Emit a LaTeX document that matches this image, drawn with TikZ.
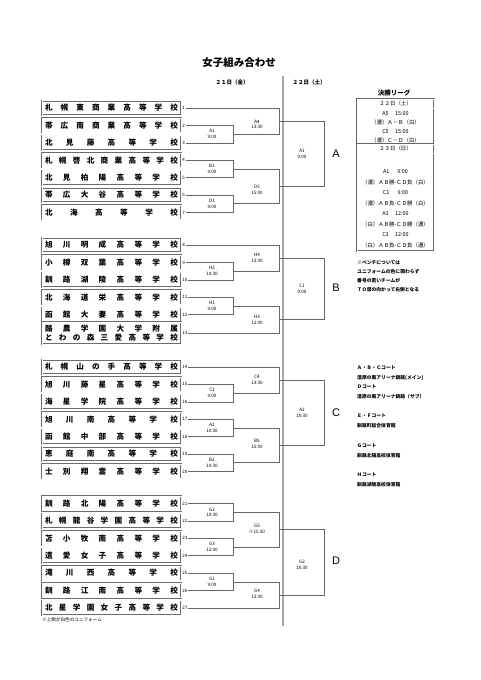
\documentclass[tikz,border=0pt]{standalone}
\usepackage{fontspec}
\setmainfont{Noto Sans CJK JP}
\newfontfamily\latinsans{Liberation Sans}
\def\spreadchars#1{\spreadA#1\endspread}
\def\endspread{ENDSPREAD}
\def\spreadA#1{\ifx#1\endspread\else#1\expandafter\spreadB\fi}
\def\spreadB#1{\ifx#1\endspread\else\hfill#1\expandafter\spreadB\fi}
\tikzset{
 schoolbox/.style={draw=gray!85!black, double=white, double distance=0.7pt, line width=0.45pt,
   minimum width=139pt, minimum height=14.5pt, inner sep=0pt, font=\fontsize{7.6}{9}\selectfont\bfseries},
 num/.style={font=\fontsize{4.5}{5}\selectfont, inner sep=0.6pt, anchor=west},
 br/.style={draw=gray!80!black, line width=0.5pt},
 lbl/.style={font=\fontsize{4.6}{5.6}\selectfont, align=center, inner sep=0pt},
 grp/.style={font=\latinsans\fontsize{11}{12}\selectfont, inner sep=0pt},
 note/.style={font=\fontsize{4.8}{5.5}\selectfont\bfseries, anchor=west, inner sep=0pt},
 tabtxt/.style={font=\fontsize{5.4}{6}\selectfont, inner sep=0pt},
 dbl/.style={draw=gray!80!black, double=white, double distance=0.6pt, line width=0.4pt},
}
\newcommand\school[3]{%
 \node[schoolbox] (s#1) at (111.5,#2) {\makebox[133pt][s]{\spreadchars{#3}}};
 \node[num] (n#1) at (181.5,#2) {#1};}
\begin{document}
\begin{tikzpicture}[x=1pt,y=-1pt]
\useasboundingbox (0,0) rectangle (481,680);
% title
\node[font=\fontsize{10.5}{12}\selectfont\bfseries] (title) at (239,63) {女子組み合わせ};
\node[font=\fontsize{5.5}{6}\selectfont\bfseries] (d21) at (232,82) {２１日（金）};
\node[font=\fontsize{5.5}{6}\selectfont\bfseries] (d22) at (309,82) {２２日（土）};
\coordinate (vtop) at (283,76);
\coordinate (vbot) at (283,626);
\draw[draw=gray!70, line width=1.4pt] (vtop) -- (vbot);
% schools
\school{1}{108}{札幌東商業高等学校}
\school{2}{125.4}{帯広南商業高等学校}
\school{3}{142.8}{北見藤高等学校}
\school{4}{160.2}{札幌啓北商業高等学校}
\school{5}{177.6}{北見柏陽高等学校}
\school{6}{195}{帯広大谷高等学校}
\school{7}{212.4}{北海高等学校}
\school{8}{245}{旭川明成高等学校}
\school{9}{262.4}{小樽双葉高等学校}
\school{10}{279.8}{釧路湖陵高等学校}
\school{11}{297.2}{北海道栄高等学校}
\school{12}{314.6}{函館大妻高等学校}
\node[schoolbox, minimum height=22pt, align=center] (s13) at (111.5,333)
 {\makebox[133pt][s]{\spreadchars{酪農学園大学附属}}\\[-0.5pt]\makebox[133pt][s]{\spreadchars{とわの森三愛高等学校}}};
\node[num] (n13) at (181.5,333) {13};
\school{14}{367}{札幌山の手高等学校}
\school{15}{384.4}{旭川藤星高等学校}
\school{16}{401.8}{海星学院高等学校}
\school{17}{419.2}{旭川南高等学校}
\school{18}{436.6}{函館中部高等学校}
\school{19}{454}{恵庭南高等学校}
\school{20}{471.4}{士別翔雲高等学校}
\school{21}{503.5}{釧路北陽高等学校}
\school{22}{520.9}{札幌龍谷学園高等学校}
\school{23}{538.3}{苫小牧南高等学校}
\school{24}{555.7}{遺愛女子高等学校}
\school{25}{573.1}{滝川西高等学校}
\school{26}{590.5}{釧路江南高等学校}
\school{27}{607.9}{北星学園女子高等学校}
% ---- group A
\coordinate (mA1) at (233,134.1);
\coordinate (mB1) at (233,168.9);
\coordinate (mD1) at (233,203.7);
\coordinate (mA4) at (279,121.05);
\coordinate (mD5) at (279,186.3);
\coordinate (fA) at (324,153.7);
\draw[br] (n2.east) -| (mA1); \draw[br] (n3.east) -| (mA1);
\draw[br] (n4.east) -| (mB1); \draw[br] (n5.east) -| (mB1);
\draw[br] (n6.east) -| (mD1); \draw[br] (n7.east) -| (mD1);
\draw[br] (n1.east) -| (mA4); \draw[br] (mA1) -| (mA4);
\draw[br] (mB1) -| (mD5); \draw[br] (mD1) -| (mD5);
\draw[br] (mA4) -| (fA); \draw[br] (mD5) -| (fA);
\node[lbl] (lA1) at (212,134.1) {A1\\9:00};
\node[lbl] (lB1) at (212,168.9) {B1\\9:00};
\node[lbl] (lD1) at (212,203.7) {D1\\9:00};
\node[lbl] (lA4) at (257,124.5) {A4\\13:30};
\node[lbl] (lD5) at (257,190) {D5\\15:00};
\node[lbl] (lfA) at (302,153.7) {A1\\9:00};
\node[grp] (gA) at (336,154) {A};
% ---- group B
\coordinate (mH2) at (233,271.1);
\coordinate (mH1) at (233,305.9);
\coordinate (mH4) at (279,258.05);
\coordinate (mH3) at (279,319.45);
\coordinate (fB) at (324,288.75);
\draw[br] (n9.east) -| (mH2); \draw[br] (n10.east) -| (mH2);
\draw[br] (n11.east) -| (mH1); \draw[br] (n12.east) -| (mH1);
\draw[br] (n8.east) -| (mH4); \draw[br] (mH2) -| (mH4);
\draw[br] (mH1) -| (mH3); \draw[br] (n13.east) -| (mH3);
\draw[br] (mH4) -| (fB); \draw[br] (mH3) -| (fB);
\node[lbl] (lH2) at (212,271.1) {H2\\10:30};
\node[lbl] (lH1) at (212,305.9) {H1\\9:00};
\node[lbl] (lH4) at (257,258) {H4\\13:30};
\node[lbl] (lH3) at (257,320) {H3\\12:00};
\node[lbl] (lfB) at (302,288.75) {C1\\9:00};
\node[grp] (gB) at (336,288) {B};
% ---- group C
\coordinate (mC1) at (233,393.1);
\coordinate (mA2) at (233,427.9);
\coordinate (mB2) at (233,462.7);
\coordinate (mC4) at (279,380.05);
\coordinate (mB5) at (279,445.3);
\coordinate (fC) at (324,412.7);
\draw[br] (n15.east) -| (mC1); \draw[br] (n16.east) -| (mC1);
\draw[br] (n17.east) -| (mA2); \draw[br] (n18.east) -| (mA2);
\draw[br] (n19.east) -| (mB2); \draw[br] (n20.east) -| (mB2);
\draw[br] (n14.east) -| (mC4); \draw[br] (mC1) -| (mC4);
\draw[br] (mA2) -| (mB5); \draw[br] (mB2) -| (mB5);
\draw[br] (mC4) -| (fC); \draw[br] (mB5) -| (fC);
\node[lbl] (lC1) at (212,393.1) {C1\\9:00};
\node[lbl] (lA2) at (212,427.9) {A2\\10:30};
\node[lbl] (lB2) at (212,462.7) {B2\\10:30};
\node[lbl] (lC4) at (257,380) {C4\\13:30};
\node[lbl] (lB5) at (257,444) {B5\\15:00};
\node[lbl] (lfC) at (302,412.7) {A2\\10:30};
\node[grp] (gC) at (336,413) {C};
% ---- group D
\coordinate (mG2) at (233,512.2);
\coordinate (mG3) at (233,547);
\coordinate (mG1) at (233,581.8);
\coordinate (mG5) at (279,529.6);
\coordinate (mG4) at (279,594.85);
\coordinate (fD) at (324,562.2);
\draw[br] (n21.east) -| (mG2); \draw[br] (n22.east) -| (mG2);
\draw[br] (n23.east) -| (mG3); \draw[br] (n24.east) -| (mG3);
\draw[br] (n25.east) -| (mG1); \draw[br] (n26.east) -| (mG1);
\draw[br] (mG2) -| (mG5); \draw[br] (mG3) -| (mG5);
\draw[br] (mG1) -| (mG4); \draw[br] (n27.east) -| (mG4);
\draw[br] (mG5) -| (fD); \draw[br] (mG4) -| (fD);
\node[lbl] (lG2) at (212,512.2) {G2\\10:30};
\node[lbl] (lG3) at (212,547) {G3\\12:00};
\node[lbl] (lG1) at (212,581.8) {G1\\9:00};
\node[lbl] (lG5) at (257,529) {G5\\※15:30};
\node[lbl] (lG4) at (257,594) {G4\\13:30};
\node[lbl] (lfD) at (302,565) {G2\\10:30};
\node[grp] (gD) at (336,561) {D};
\node[note, font=\fontsize{4.6}{5}\selectfont] (foot) at (42,620) {※上側が白色のユニフォーム};
% ---- final league table
\node[font=\fontsize{6.5}{7}\selectfont\bfseries] (lgT) at (394,93) {決勝リーグ};
\coordinate (tbTL) at (357,99);
\coordinate (tbBR) at (434,251);
\draw[dbl] (tbTL) rectangle (tbBR);
\coordinate (h1a) at (357,108.5); \coordinate (h1b) at (434,108.5);
\coordinate (h2a) at (357,144); \coordinate (h2b) at (434,144);
\coordinate (h3a) at (357,153.5); \coordinate (h3b) at (434,153.5);
\draw[dbl] (h1a) -- (h1b);
\draw[dbl] (h2a) -- (h2b);
\draw[dbl] (h3a) -- (h3b);
\node[tabtxt] (r0) at (395.5,103.8) {２２日（土）};
\node[tabtxt] (r1) at (395.5,113.5) {A5\hspace{1.2em}15:00};
\node[tabtxt] (r2) at (395.5,122.5) {（濃）Ａ－Ｂ（白）};
\node[tabtxt] (r3) at (395.5,131.5) {C5\hspace{1.2em}15:00};
\node[tabtxt] (r4) at (395.5,140) {（濃）Ｃ－Ｄ（白）};
\node[tabtxt] (r5) at (395.5,148.8) {２３日（日）};
\node[tabtxt] (r6) at (395.5,171.5) {A1\hspace{1.5em}9:00};
\node[tabtxt] (r7) at (395.5,182) {（濃）ＡＢ勝-ＣＤ負（白）};
\node[tabtxt] (r8) at (395.5,192.5) {C1\hspace{1.5em}9:00};
\node[tabtxt] (r9) at (395.5,203) {（濃）ＡＢ負-ＣＤ勝（白）};
\node[tabtxt] (r10) at (395.5,213.5) {A3\hspace{1.2em}12:00};
\node[tabtxt] (r11) at (395.5,224.5) {（白）ＡＢ勝-ＣＤ勝（濃）};
\node[tabtxt] (r12) at (395.5,235) {C3\hspace{1.2em}12:00};
\node[tabtxt] (r13) at (395.5,245) {（白）ＡＢ負-ＣＤ負（濃）};
\node[note] (b1) at (357,262.5) {※ベンチについては};
\node[note] (b2) at (357,271.5) {ユニフォームの色に関わらず};
\node[note] (b3) at (357,281) {番号の若いチームが};
\node[note] (b4) at (357,290) {ＴＯ席の向かって右側となる};
% courts
\node[note] (c1) at (357,368) {Ａ・Ｂ・Ｃコート};
\node[note] (c2) at (357,378) {湿原の風アリーナ釧路(メイン)};
\node[note] (c3) at (357,387) {Ｄコート};
\node[note] (c4) at (357,397) {湿原の風アリーナ釧路（サブ）};
\node[note] (c5) at (357,416) {Ｅ・Ｆコート};
\node[note] (c6) at (357,426) {釧路町総合体育館};
\node[note] (c7) at (357,446) {Ｇコート};
\node[note] (c8) at (357,456) {釧路北陽高校体育館};
\node[note] (c9) at (357,475) {Ｈコート};
\node[note] (c10) at (357,485) {釧路湖陵高校体育館};
\end{tikzpicture}
\end{document}
